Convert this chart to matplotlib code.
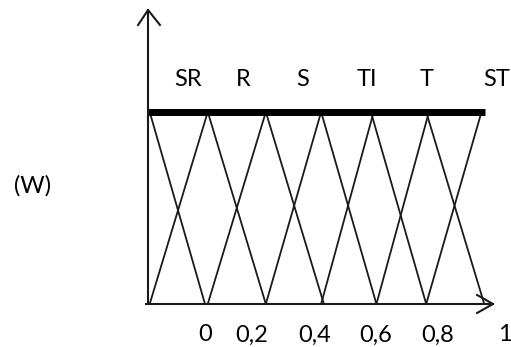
import matplotlib
matplotlib.use('Agg')
import matplotlib.pyplot as plt

# membership function sets (linguistic terms) and the axis labels
terms = ['SR', 'R', 'S', 'TI', 'T', 'ST']
tick_labels = ['0', '0,2', '0,4', '0,6', '0,8', '1']
y_label = '(W)'

# triangle edges (x on the 0..1 scale)
rise_start = [-0.20, 0.01, 0.22, 0.42, 0.62, 0.80]
rise_end = [0.01, 0.22, 0.42, 0.61, 0.81, 1.00]
fall_start = [-0.20, 0.01, 0.22, 0.42, 0.60, 0.80]
fall_end = [0.00, 0.22, 0.43, 0.62, 0.80, 1.01]

# where the hand-placed labels sit
term_x = [-0.061, 0.137, 0.354, 0.586, 0.803, 1.056]
tick_x = [0.0, 0.17, 0.398, 0.618, 0.843, 1.085]

fig = plt.figure(figsize=(5.11, 3.47), dpi=100)
ax = fig.add_axes([0, 0, 1, 1])
ax.set_xlim(-0.7414, 1.1067)
ax.set_ylim(-0.224, 1.583)
ax.axis('off')

font = 'Lato'
fs = 17
lw = 1.3

# triangles
for x0, x1 in zip(rise_start, rise_end):
    ax.plot([x0, x1], [0, 1], color='#1a1a1a', lw=lw, solid_capstyle='butt')
for x0, x1 in zip(fall_start, fall_end):
    ax.plot([x0, x1], [1, 0], color='#1a1a1a', lw=lw, solid_capstyle='butt')

# thick top bar
ax.plot([-0.21, 1.013], [1, 1], color='black', lw=5, solid_capstyle='butt')

# axes with open arrowheads
x_axis0 = -0.206
ax.plot([-0.215, 1.0416], [0, 0], color='#1a1a1a', lw=1.5)
ax.plot([0.984, 1.0416, 0.984], [0.047, 0, -0.047], color='#1a1a1a', lw=1.5)
ax.plot([x_axis0, x_axis0], [0, 1.531], color='#1a1a1a', lw=1.5)
ax.plot([x_axis0 - 0.036, x_axis0, x_axis0 + 0.043], [1.453, 1.531, 1.453],
        color='#1a1a1a', lw=1.5)

for t, x in zip(terms, term_x):
    ax.text(x, 1.167, t, ha='center', va='center', fontsize=fs, family=font)
for t, x in zip(tick_labels, tick_x):
    ax.text(x, -0.161, t, ha='center', va='center', fontsize=fs, family=font)
ax.text(-0.622, 0.615, y_label, ha='center', va='center', fontsize=fs, family=font)

fig.savefig('out.png', dpi=100)
